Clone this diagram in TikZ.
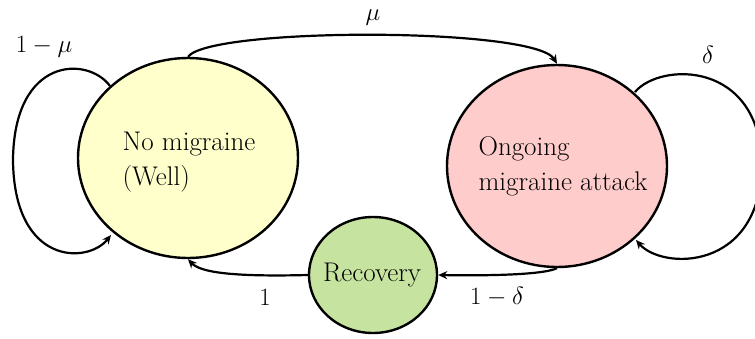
\documentclass[tikz,border=0pt]{standalone}
\usetikzlibrary{shapes.geometric,arrows.meta}
\definecolor{wellc}{RGB}{255,255,204}
\definecolor{attc}{RGB}{255,204,204}
\definecolor{recc}{RGB}{198,228,160}
\begin{document}
\begin{tikzpicture}[x=1pt,y=-1pt,
  state/.style={ellipse,draw=black,line width=2.4pt,inner sep=0pt},
  stxt/.style={align=left,inner sep=0pt,font=\fontsize{27}{35}\selectfont},
  arr/.style={line width=2.2pt,-{Stealth[length=9pt,width=8pt]}},
  lbl/.style={font=\fontsize{27}{32}\selectfont}]
\useasboundingbox (0,0) rectangle (755,338);
\node[state,fill=wellc,minimum width=220pt,minimum height=200pt] (w) at (188,158) {};
\node[state,fill=attc,minimum width=220pt,minimum height=202pt] (o) at (557,166) {};
\node[state,fill=recc,minimum width=128pt,minimum height=116pt] (r) at (373,275) {};
\node[stxt] (wt) at (189,162) {No migraine\\(Well)};
\node[stxt] (ot) at (563,166) {Ongoing\\migraine attack};
\node[stxt] (rt) at (372,275) {Recovery};
\coordinate (wl1) at (110,86);
\coordinate (wl2) at (111,235);
\coordinate (wlm) at (13,160);
\coordinate (ol1) at (635,92);
\coordinate (ol2) at (636,240);
\coordinate (olm) at (762,165);
\draw[arr] (w.north) .. controls (210,27) and (535,27) .. (o.north);
\draw[arr] (wl1) .. controls (88,56) and (14,56) .. (wlm) .. controls (14,266) and (88,264) .. (wl2);
\draw[arr] (ol1) .. controls (660,62) and (760,60) .. (olm) .. controls (760,272) and (662,270) .. (ol2);
\draw[arr] (r.west) .. controls (230,277) and (200,272) .. (w.south);
\draw[arr] (o.south) .. controls (545,274) and (500,276) .. (r.east);
\node[lbl] (lmu) at (373,18) {$\mu$};
\node[lbl] (l1mu) at (44,47) {$1-\mu$};
\node[lbl] (ld) at (708,55) {$\delta$};
\node[lbl] (l1) at (265,297) {$1$};
\node[lbl] (l1d) at (497,297) {$1-\delta$};
\end{tikzpicture}
\end{document}
